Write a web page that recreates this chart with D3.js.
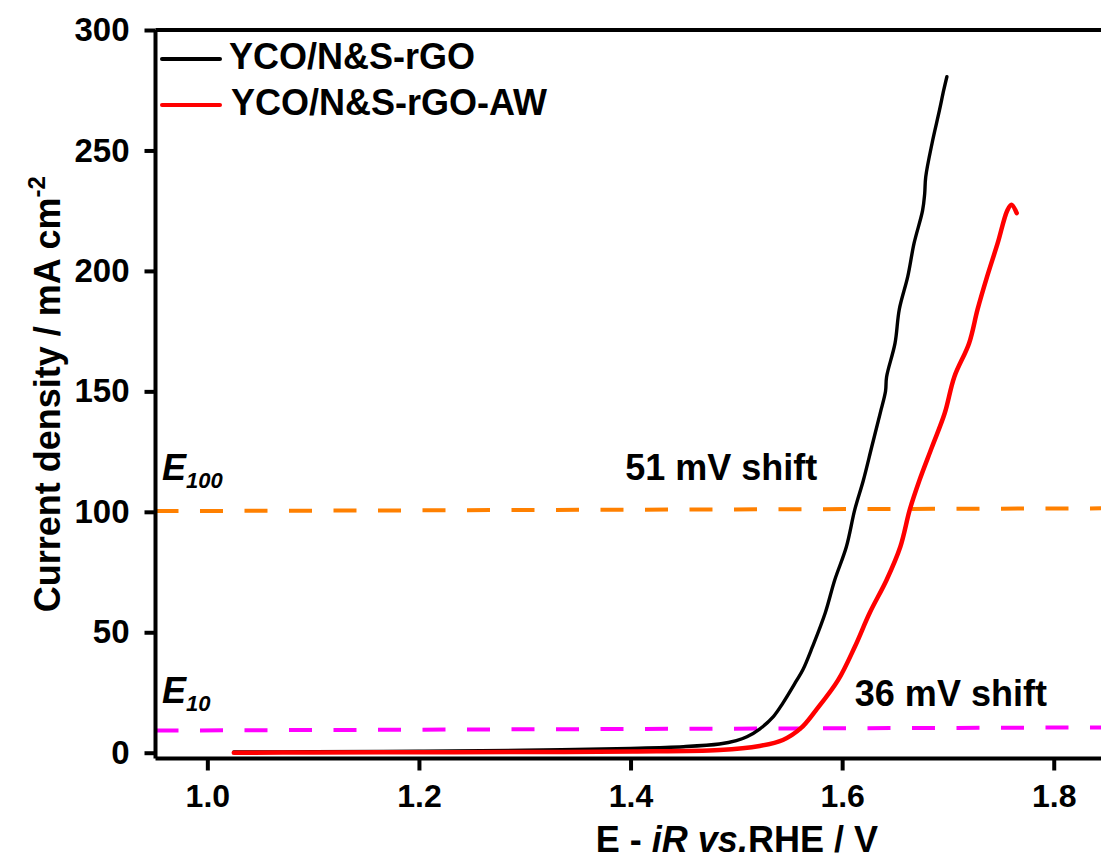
<!DOCTYPE html>
<html>
<head>
<meta charset="utf-8">
<script src="https://cdn.jsdelivr.net/npm/d3@7/dist/d3.min.js"></script>
<style>
  html, body { margin: 0; padding: 0; background: #fff; overflow: hidden; }
  svg text { font-family: "Liberation Sans", Arial, sans-serif; font-weight: bold; fill: #000; }
</style>
</head>
<body>
<svg id="chart" width="1101" height="860"></svg>
<script>
// ---- data (E - iR vs. RHE in V, current density in mA cm^-2) ----
const seriesNames = ["YCO/N&S-rGO", "YCO/N&S-rGO-AW"];
const seriesColors = ["#000000", "#ff0000"];
const blackCurve = [
  [1.025,0.3],[1.10,0.4],[1.20,0.6],[1.30,1.0],[1.40,1.8],[1.45,2.5],[1.484,3.6],
  [1.50,5.0],[1.51,6.6],[1.522,9.8],[1.535,15.0],[1.544,20.6],[1.557,30.0],[1.563,34.5],
  [1.572,44.0],[1.584,58.0],[1.593,71.7],[1.604,85.5],[1.612,101],[1.620,113],
  [1.628,127],[1.636,141],[1.641,150],[1.642,156],[1.650,170],[1.654,184],[1.662,197.6],
  [1.668,211.5],[1.676,225],[1.678,232],[1.679,239],[1.685,253],[1.692,266.7],[1.696,275],[1.699,280.6]
];
const redCurve = [
  [1.025,0.0],[1.10,0.1],[1.20,0.2],[1.30,0.3],[1.402,0.5],[1.484,1.1],[1.522,2.8],
  [1.544,5.3],[1.561,10.2],[1.575,17.5],[1.596,30.0],[1.612,44.0],[1.626,58.0],
  [1.642,71.7],[1.655,85.5],[1.664,101],[1.673,113],[1.685,127],[1.697,141],
  [1.706,156],[1.720,170],[1.728,184],[1.737,197.6],[1.747,211.5],[1.756,225],
  [1.760,227.5],[1.765,224]
];
const e10Line = [[0.951,9.2],[2.05,10.8]];
const e100Line = [[0.951,100.3],[2.05,101.7]];
const xTicks = [1.0, 1.2, 1.4, 1.6, 1.8];
const yTicks = [0, 50, 100, 150, 200, 250, 300];
const annotations = [
  {text: "51 mV shift", v: 1.395, j: 113},
  {text: "36 mV shift", v: 1.612, j: 19.6}
];

// ---- layout ----
const svg = d3.select("#chart");
const padL = 155.5, padT = 30, padB = 758.5;
const x = d3.scaleLinear().domain([0.951, 2.05]).range([padL, padL + (2.05 - 0.951) * 1058]);
const y = d3.scaleLinear().domain([-2.4, 300]).range([padB, padT]);
const padR = x.range()[1];

// reference lines
const line = d3.line().x(d => x(d[0])).y(d => y(d[1]));
svg.append("path").attr("d", line(e100Line)).attr("fill", "none")
  .attr("stroke", "#ff8000").attr("stroke-width", 4).attr("stroke-dasharray", "23,21.5");
svg.append("path").attr("d", line(e10Line)).attr("fill", "none")
  .attr("stroke", "#ff00ff").attr("stroke-width", 4).attr("stroke-dasharray", "23,21.5");

// curves
const curve = d3.line().x(d => x(d[0])).y(d => y(d[1])).curve(d3.curveCatmullRom.alpha(0.5));
svg.append("path").attr("d", curve(blackCurve)).attr("fill", "none")
  .attr("stroke", seriesColors[0]).attr("stroke-width", 3.4).attr("stroke-linejoin", "round").attr("stroke-linecap", "round");
svg.append("path").attr("d", curve(redCurve)).attr("fill", "none")
  .attr("stroke", seriesColors[1]).attr("stroke-width", 4.5).attr("stroke-linejoin", "round").attr("stroke-linecap", "round");

// frame (top edge; right edge lies beyond the visible area)
svg.append("line").attr("x1", padL).attr("x2", padR).attr("y1", padT).attr("y2", padT)
  .attr("stroke", "#000").attr("stroke-width", 4);

// axes
const xAxis = d3.axisBottom(x).tickValues(xTicks).tickFormat(d3.format(".1f")).tickSize(12).tickPadding(14);
const gx = svg.append("g").attr("transform", `translate(0,${padB})`).call(xAxis);
gx.select(".domain").attr("stroke-width", 4).attr("d", `M${padL},0H${padR}`);
gx.selectAll(".tick line").attr("stroke-width", 4);
gx.selectAll(".tick text").style("font-size", "32px").attr("fill", "#000");

const yAxis = d3.axisLeft(y).tickValues(yTicks).tickSize(11).tickPadding(15);
const gy = svg.append("g").attr("transform", `translate(${padL},0)`).call(yAxis);
gy.select(".domain").attr("stroke-width", 4).attr("d", `M0,${padT}V${padB}`);
gy.selectAll(".tick line").attr("stroke-width", 4);
gy.selectAll(".tick text").style("font-size", "33px").attr("fill", "#000");

// axis titles
const xt = svg.append("text").attr("x", (padL + padR) / 2).attr("y", 852).attr("text-anchor", "middle").style("font-size", "36px");
xt.append("tspan").text("E - ");
xt.append("tspan").style("font-style", "italic").text("iR");
xt.append("tspan").text(" ");
xt.append("tspan").style("font-style", "italic").text("vs.");
xt.append("tspan").text("RHE / V");

const yt = svg.append("text").attr("transform", `translate(60,${(padT + padB) / 2}) rotate(-90)`)
  .attr("text-anchor", "middle").style("font-size", "36px");
yt.append("tspan").text("Current density / mA cm");
yt.append("tspan").attr("dy", -15).style("font-size", "24px").text("-2");

// legend
seriesNames.forEach((name, i) => {
  const ly = 59 + i * 46;
  svg.append("line").attr("x1", 162).attr("x2", 220).attr("y1", ly).attr("y2", ly)
    .attr("stroke", seriesColors[i]).attr("stroke-width", 4).attr("stroke-linecap", "round");
  svg.append("text").attr("x", 229 + i * 2).attr("y", ly + 10).style("font-size", "36px").text(name);
});

// E labels
function eLabel(sub, yy) {
  const t = svg.append("text").attr("x", 162).attr("y", yy).style("font-style", "italic").style("font-size", "36px");
  t.append("tspan").text("E");
  t.append("tspan").attr("dy", 8).style("font-size", "22px").text(sub);
}
eLabel("100", y(113.3));
eLabel("10", y(20.5));

// annotations
annotations.forEach(a => {
  svg.append("text").attr("x", x(a.v)).attr("y", y(a.j)).style("font-size", "36px").text(a.text);
});
</script>
</body>
</html>
